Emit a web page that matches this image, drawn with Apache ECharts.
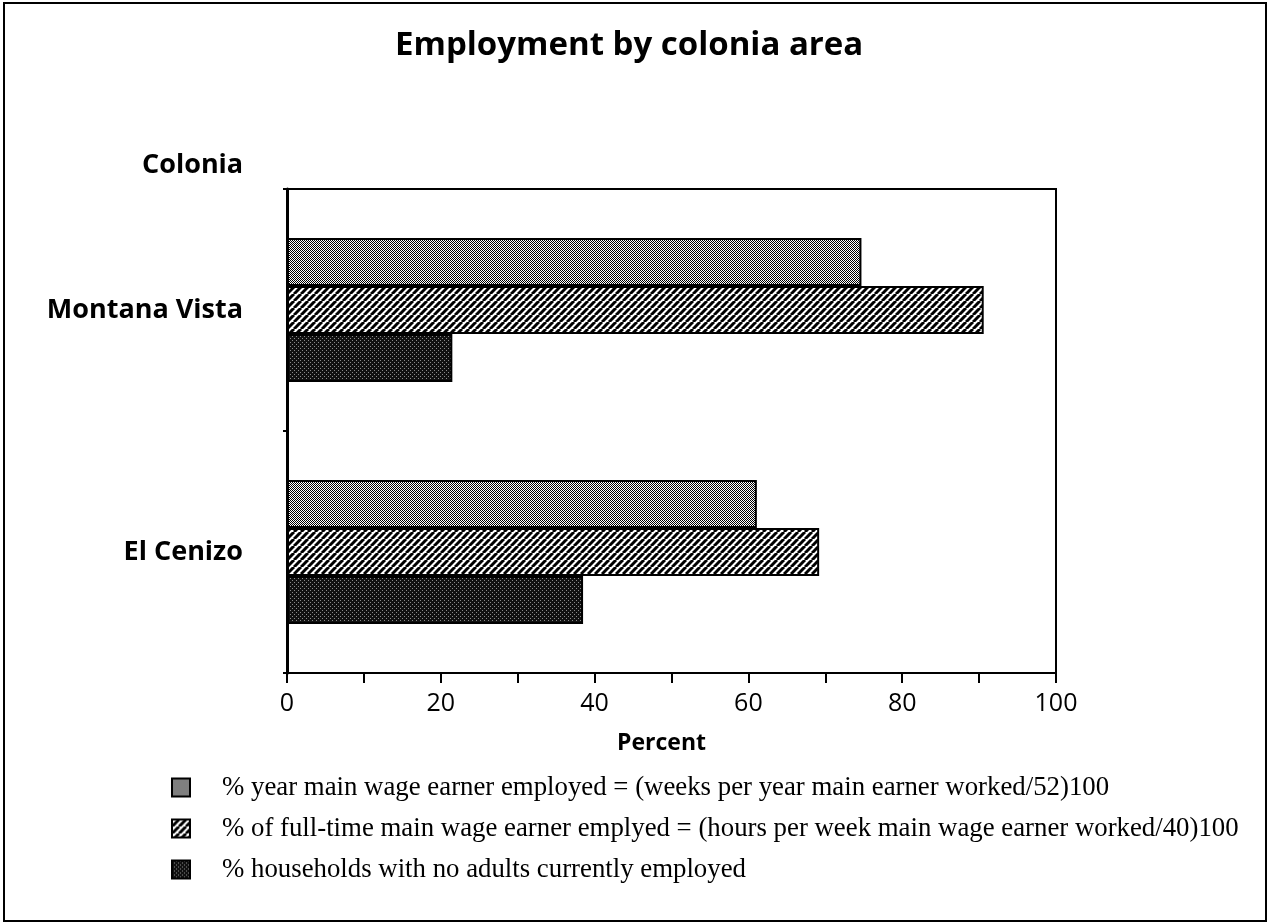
<!DOCTYPE html>
<html>
<head>
<meta charset="utf-8">
<script src="https://cdn.jsdelivr.net/npm/echarts@6/dist/echarts.min.js"></script>
<style>
html,body{margin:0;padding:0;background:#fff;}
#chart{width:1270px;height:923px;}
</style>
</head>
<body>
<div id="chart"></div>
<script>
// ---- data ----
const chartTitle = 'Employment by colonia area';
const categoryAxisName = 'Colonia';
const valueAxisName = 'Percent';
const categories = ['Montana Vista', 'El Cenizo'];
const seriesNames = [
  '% year main wage earner employed = (weeks per year main earner worked/52)100',
  '% of full-time main wage earner emplyed = (hours per week main wage earner worked/40)100',
  '% households with no adults currently employed'
];
const yearEmployed = [74.7, 61.1];
const fullTimeEmployed = [90.6, 69.2];
const noAdultsEmployed = [21.5, 38.5];
const xTickValues = [0, 20, 40, 60, 80, 100];

// ---- patterns ----
function makePattern(size, draw) {
  const c = document.createElement('canvas');
  c.width = size; c.height = size;
  const ctx = c.getContext('2d');
  draw(ctx, size);
  return { image: c, repeat: 'repeat' };
}
const dotPattern = makePattern(4, (ctx, s) => {
  ctx.fillStyle = '#fff'; ctx.fillRect(0, 0, s, s);
  ctx.fillStyle = '#000';
  for (let y = 0; y < s; y++) for (let x = 0; x < s; x++) {
    if ((x + y) % 2 === 0) ctx.fillRect(x, y, 1, 1);
  }
});
const hatchPattern = makePattern(7, (ctx, s) => {
  ctx.fillStyle = '#fff'; ctx.fillRect(0, 0, s, s);
  ctx.strokeStyle = '#000'; ctx.lineWidth = 3;
  for (const o of [-s, 0, s]) {
    ctx.beginPath(); ctx.moveTo(o, s); ctx.lineTo(o + s, 0); ctx.stroke();
  }
});
const darkPattern = makePattern(4, (ctx, s) => {
  ctx.fillStyle = '#111'; ctx.fillRect(0, 0, s, s);
  ctx.fillStyle = '#8a8a8a';
  ctx.fillRect(0, 0, 1, 1); ctx.fillRect(2, 2, 1, 1);
});
const patterns = [dotPattern, hatchPattern, darkPattern];
const seriesValues = [yearEmployed, fullTimeEmployed, noAdultsEmployed];

const chart = echarts.init(document.getElementById('chart'), null, { renderer: 'canvas' });
const option = {
  animation: false,
  backgroundColor: '#fff',
  title: [
    { text: chartTitle, left: 390, top: 24,
      textStyle: { fontFamily: 'Open Sans', fontWeight: 'bold', fontSize: 33, color: '#000' } },
    { text: categoryAxisName, left: 137, top: 147,
      textStyle: { fontFamily: 'Open Sans', fontWeight: 'bold', fontSize: 27, color: '#000' } }
  ],
  graphic: [
    { type: 'rect', shape: { x: 4, y: 3, width: 1262, height: 918 },
      style: { fill: 'none', stroke: '#000', lineWidth: 2 }, silent: true }
  ],
  legend: {
    orient: 'vertical', left: 166, top: 769,
    itemWidth: 18, itemHeight: 18, itemGap: 14,
    icon: 'rect',
    selectedMode: false,
    data: seriesNames,
    textStyle: { fontFamily: 'Liberation Serif', fontSize: 26.8, lineHeight: 27, color: '#000', padding: [0, 0, 0, 27] }
  },
  grid: { left: 287, right: 214, top: 189, bottom: 250, show: true, borderColor: '#000', borderWidth: 2, containLabel: false },
  xAxis: {
    type: 'value', min: 0, max: 100, interval: 10,
    name: valueAxisName, nameLocation: 'middle', nameGap: 59,
    nameTextStyle: { fontFamily: 'Open Sans', fontWeight: 'bold', fontSize: 23, color: '#000', padding: [0, 20, 0, 0] },
    axisLine: { show: true, lineStyle: { color: '#000', width: 2 } },
    axisTick: { show: true, length: 10, lineStyle: { color: '#000', width: 2 } },
    splitLine: { show: false },
    axisLabel: {
      margin: 18, fontFamily: 'Open Sans', fontSize: 25, color: '#000',
      formatter: v => (xTickValues.indexOf(v) >= 0 ? String(v) : '')
    }
  },
  yAxis: {
    type: 'category', data: categories, inverse: true,
    axisLine: { show: true, lineStyle: { color: '#000', width: 3 } },
    axisTick: { show: true, length: 4, lineStyle: { color: '#000', width: 2 } },
    axisLabel: { margin: 44, fontFamily: 'Open Sans', fontWeight: 'bold', fontSize: 27, color: '#000' }
  },
  series: seriesNames.map((name, i) => ({
    name: name,
    type: 'bar',
    data: seriesValues[i],
    barWidth: 48,
    barGap: '0%',
    itemStyle: { color: patterns[i], borderColor: '#000', borderWidth: 2 }
  }))
};
chart.setOption(option);
</script>
</body>
</html>
